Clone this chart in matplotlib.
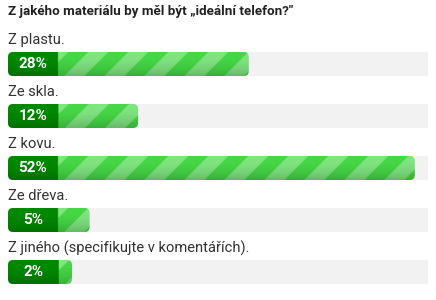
import matplotlib
matplotlib.use("Agg")
import matplotlib.pyplot as plt
import numpy as np
from matplotlib.patches import FancyBboxPatch

title = "Z jakého materiálu by měl být „ideální telefon?\""
labels = ["Z plastu.", "Ze skla.", "Z kovu.", "Ze dřeva.", "Z jiného (specifikujte v komentářích)."]
values = [28, 12, 52, 5, 2]

plt.rcParams['font.family'] = ['Roboto', 'DejaVu Sans']

W, H = 436, 300
fig = plt.figure(figsize=(W / 100, H / 100), dpi=100)
ax = fig.add_axes([0, 0, 1, 1])
ax.set_xlim(0, W)
ax.set_ylim(H, 0)
ax.axis('off')

x0 = 8          # left edge of bars
box_w = 50      # dark green label box
track_end = 428
px_per_pct = 6.92
bar_h = 24
row_gap = 52

dark = np.array([0, 138, 0]) / 255
light = np.array([128, 230, 128]) / 255
mid = np.array([70, 216, 70]) / 255

ax.text(x0, 11, title, fontsize=9.6, fontweight='bold', color='#222222',
        va='center', ha='left')

for i, (lab, v) in enumerate(zip(labels, values)):
    ytxt = 40 + i * row_gap
    ytop = 52 + i * row_gap
    ax.text(x0, ytxt, lab, fontsize=10.6, color='#333333', va='center', ha='left')

    # gray track
    ax.add_patch(FancyBboxPatch((x0, ytop), track_end - x0, bar_h,
                                boxstyle="square,pad=0", fc='#f2f2f2', ec='none'))

    right = max(55 + px_per_pct * v, x0 + box_w + 14)
    wbar = right - x0

    # striped bar image
    nx, ny = int(round(wbar)) * 2, bar_h * 2
    xx, yy = np.meshgrid(np.arange(nx) / 2, np.arange(ny) / 2)
    phase = ((xx + yy) % 40) < 20
    img = np.where(phase[..., None], light, mid)
    img = np.where((xx < box_w)[..., None], dark, img)
    shade = 1.0 - 0.2 * (yy / bar_h) ** 2
    img = img * shade[..., None]
    clip = FancyBboxPatch((x0 + 5, ytop + 5), wbar - 10, bar_h - 10,
                          boxstyle="round,pad=5", fc='none', ec='none')
    ax.add_patch(clip)
    im = ax.imshow(img, extent=[x0, right, ytop + bar_h, ytop],
                   interpolation='bilinear', aspect='auto', zorder=3)
    im.set_clip_path(clip)

    ax.text(x0 + box_w / 2, ytop + bar_h / 2 + 0.5, f"{v}%", fontsize=11,
            fontweight='bold', color='white', va='center', ha='center', zorder=4)

fig.savefig("out.png", dpi=100)
